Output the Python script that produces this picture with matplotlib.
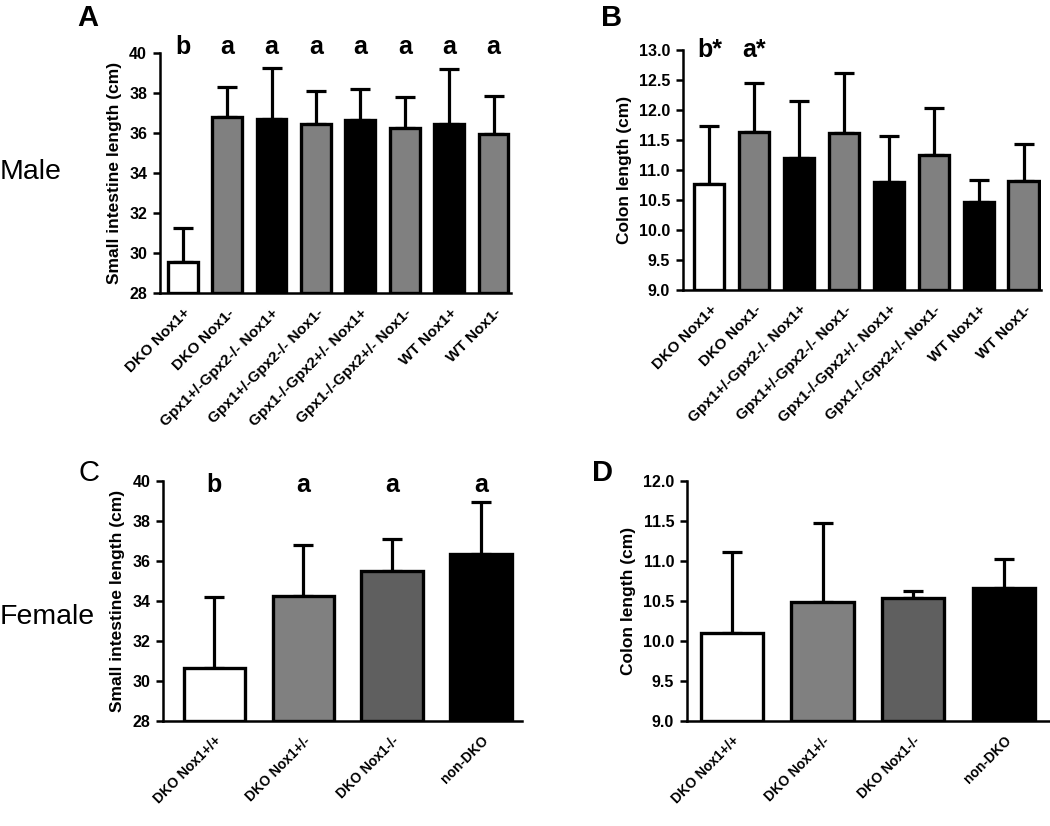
#!/usr/bin/env python3

from matplotlib import pyplot as plt
import numpy as np

plt.rcParams['font.family'] = ['Liberation Sans', 'DejaVu Sans']

# 雄 (A, B)
male_groups = ['DKO Nox1+', 'DKO Nox1-', 'Gpx1+/-Gpx2-/- Nox1+', 'Gpx1+/-Gpx2-/- Nox1-',
               'Gpx1-/-Gpx2+/- Nox1+', 'Gpx1-/-Gpx2+/- Nox1-', 'WT Nox1+', 'WT Nox1-']
male_si = [29.55, 36.8, 36.7, 36.45, 36.65, 36.25, 36.45, 35.95]
male_si_err = [1.7, 1.5, 2.55, 1.65, 1.55, 1.55, 2.75, 1.9]
male_si_sig = ['b', 'a', 'a', 'a', 'a', 'a', 'a', 'a']
male_colon = [10.77, 11.63, 11.2, 11.62, 10.8, 11.25, 10.47, 10.82]
male_colon_err = [0.96, 0.82, 0.95, 1.0, 0.77, 0.78, 0.36, 0.61]
male_colon_sig = ['b*', 'a*', '', '', '', '', '', '']
male_colors = ['white', '#808080', 'black', '#808080', 'black', '#808080', 'black', '#808080']

# 雌 (C, D)
female_groups = ['DKO Nox1+/+', 'DKO Nox1+/-', 'DKO Nox1-/-', 'non-DKO']
female_si = [30.65, 34.27, 35.5, 36.35]
female_si_err = [3.55, 2.53, 1.6, 2.62]
female_si_sig = ['b', 'a', 'a', 'a']
female_colon = [10.1, 10.49, 10.54, 10.66]
female_colon_err = [1.01, 0.98, 0.08, 0.36]
female_colors = ['white', '#808080', '#5f5f5f', 'black']

fig = plt.figure(figsize=(10.5, 8.26), dpi=100)


def draw_panel(rect, labels, vals, errs, colors, ylim, yticks, fmt, ylabel,
               xlim, width, xfs=11, sig=None, sig_y=None, sig_size=18):
    ax = fig.add_axes(rect)
    x = np.arange(len(vals))
    # 片側エラーバー（下側はバーに隠れる）
    ax.errorbar(x, vals, yerr=[np.zeros(len(errs)), errs], fmt='none',
                ecolor='black', elinewidth=2.3, capsize=7, capthick=2.3, zorder=1)
    ax.bar(x, np.array(vals) - ylim[0], bottom=ylim[0], width=width,
           color=colors, edgecolor='black', linewidth=2.4, zorder=2)
    ax.set_ylim(*ylim)
    ax.set_xlim(*xlim)
    ax.set_yticks(yticks)
    ax.set_yticklabels([fmt.format(v) for v in yticks], fontweight='bold', fontsize=11.5)
    ax.set_xticks(x)
    ax.set_xticklabels(labels, rotation=45, ha='right', rotation_mode='anchor',
                       fontweight='bold', fontsize=xfs)
    ax.tick_params(axis='x', length=0, pad=9)
    ax.tick_params(axis='y', length=5, width=1.8, pad=4)
    ax.spines['top'].set_visible(False)
    ax.spines['right'].set_visible(False)
    ax.spines['left'].set_linewidth(1.8)
    ax.spines['bottom'].set_linewidth(1.8)
    ax.set_ylabel(ylabel, fontweight='bold', fontsize=12.5, labelpad=5)
    if sig is not None:
        for xi, s in zip(x, sig):
            if s:
                ax.text(xi, sig_y, s, ha='center', va='center', fontweight='bold',
                        fontsize=sig_size, clip_on=False)
    return ax


draw_panel([0.152, 0.645, 0.335, 0.2906], male_groups, male_si, male_si_err,
           male_colors, (28, 40), np.arange(28, 41, 2), '{:.0f}',
           'Small intestine length (cm)', (-0.52, 7.4), 0.67, 11,
           male_si_sig, 40.3)
draw_panel([0.65, 0.649, 0.341, 0.2906], male_groups, male_colon, male_colon_err,
           male_colors, (9, 13), np.arange(9, 13.01, 0.5), '{:.1f}',
           'Colon length (cm)', (-0.6, 7.38), 0.67, 11,
           male_colon_sig, 13.0)
draw_panel([0.155, 0.127, 0.342, 0.2906], female_groups, female_si, female_si_err,
           female_colors, (28, 40), np.arange(28, 41, 2), '{:.0f}',
           'Small intestine length (cm)', (-0.58, 3.46), 0.69, 10,
           female_si_sig, 39.8)
draw_panel([0.654, 0.127, 0.346, 0.2906], female_groups, female_colon, female_colon_err,
           female_colors, (9, 12), np.arange(9, 12.01, 0.5), '{:.1f}',
           'Colon length (cm)', (-0.5, 3.51), 0.69, 10)

# パネルラベル
fig.text(77 / 1050, 1 - 18 / 826, 'A', fontsize=21, fontweight='bold', va='center')
fig.text(601 / 1050, 1 - 18 / 826, 'B', fontsize=21, fontweight='bold', va='center')
fig.text(79 / 1050, 1 - 473 / 826, 'C', fontsize=21, va='center')
fig.text(592 / 1050, 1 - 473 / 826, 'D', fontsize=21, fontweight='bold', va='center')
fig.text(0, 1 - 172 / 826, 'Male', fontsize=20.5, va='center')
fig.text(0, 1 - 617 / 826, 'Female', fontsize=20.5, va='center')

plt.savefig('out.png', dpi=100)
